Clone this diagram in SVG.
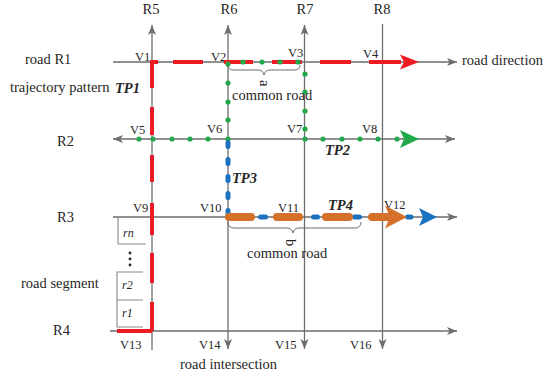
<svg xmlns="http://www.w3.org/2000/svg" width="544" height="377" viewBox="0 0 544 377" font-family="'Liberation Serif', 'Times New Roman', serif">
  <style>
    .road { fill: none; stroke: #6d6d6d; stroke-width: 1.3; }
    .box { fill: none; stroke: #8a8a8a; stroke-width: 1.1; }
    .brace { fill: none; stroke: #6d6d6d; stroke-width: 1; }
    text { font-family: 'Liberation Serif', 'Times New Roman', serif; fill: #262626; }
    .lbl { font-size: 14.5px; }
    .v { font-size: 12.5px; }
    .tp { font-size: 14.5px; font-weight: bold; font-style: italic; }
    .seg { font-size: 12px; font-style: italic; }
    .tp1 { fill: none; stroke: #ed1c24; stroke-width: 4; }
    .tp2 { fill: #22a84a; }
    .tp3 { fill: none; stroke: #1b72c0; stroke-width: 5; stroke-linecap: round; }
    .tp4 { fill: none; stroke: #d5702b; stroke-width: 8; stroke-linecap: round; }
  </style>
  <defs>
    <marker id="arr" markerUnits="userSpaceOnUse" markerWidth="11" markerHeight="9" refX="10" refY="4" orient="auto-start-reverse">
      <path d="M0,0 L10,4 L0,8 L2.5,4 z" fill="#6d6d6d"/>
    </marker>
  </defs>

  <!-- road network -->
  <g id="roads">
    <path class="road" d="M113,62 H457" marker-end="url(#arr)"/>
    <path class="road" d="M113,139 H455" marker-start="url(#arr)" marker-end="url(#arr)"/>
    <path class="road" d="M113,217 H457" marker-end="url(#arr)"/>
    <path class="road" d="M110,331 H457" marker-end="url(#arr)"/>
    <path class="road" d="M152,350 V25" marker-end="url(#arr)"/>
    <path class="road" d="M228,25 V349" marker-start="url(#arr)" marker-end="url(#arr)"/>
    <path class="road" d="M304.5,25 V349" marker-start="url(#arr)" marker-end="url(#arr)"/>
    <path class="road" d="M382.5,24 V349" marker-end="url(#arr)"/>
  </g>

  <!-- road labels -->
  <g id="road-labels" class="lbl">
    <text x="151" y="13.5" text-anchor="middle">R5</text>
    <text x="229" y="13.5" text-anchor="middle">R6</text>
    <text x="305" y="13.5" text-anchor="middle">R7</text>
    <text x="382" y="13.5" text-anchor="middle">R8</text>
    <text x="25" y="64">road R1</text>
    <text x="57" y="146">R2</text>
    <text x="57" y="222">R3</text>
    <text x="53" y="335">R4</text>
    <text x="462" y="65">road direction</text>
    <text x="10" y="92">trajectory pattern</text>
    <text x="21" y="288">road segment</text>
    <text x="180" y="369">road intersection</text>
  </g>

  <!-- intersection labels -->
  <g id="intersections" class="v">
    <text x="135" y="61">V1</text>
    <text x="211" y="61">V2</text>
    <text x="288" y="57">V3</text>
    <text x="363" y="58">V4</text>
    <text x="130" y="134">V5</text>
    <text x="207" y="133">V6</text>
    <text x="287" y="133">V7</text>
    <text x="362" y="133">V8</text>
    <text x="133" y="212">V9</text>
    <text x="200" y="212">V10</text>
    <text x="278" y="212">V11</text>
    <text x="384" y="209">V12</text>
    <text x="120" y="349">V13</text>
    <text x="199" y="349">V14</text>
    <text x="275" y="349">V15</text>
    <text x="350" y="349">V16</text>
  </g>

  <!-- road segments r1..rn -->
  <g id="segments">
    <path class="box" d="M118,217 V244 H146"/>
    <path class="box" d="M143,272 H117 V327 H143 M117,300 H143"/>
    <circle cx="130" cy="253" r="1.4" fill="#262626"/>
    <circle cx="130" cy="259" r="1.4" fill="#262626"/>
    <circle cx="130" cy="265" r="1.4" fill="#262626"/>
    <text class="seg" x="123" y="237">rn</text>
    <text class="seg" x="122" y="289">r2</text>
    <text class="seg" x="122" y="317">r1</text>
  </g>

  <!-- trajectory TP1 (red) -->
  <g id="TP1">
    <path class="tp1" d="M117,331 H152 M152,331 V302 M152,283 V253 M152,235 V203 M152,182 V155 M152,135 V107 M152,88 V62 H158 M173,62 H203 M224,62 H253 M272,62 H302 M320,62 H351 M369,62 H401"/>
    <path d="M400,54.5 L419,62 L400,69.5 L404,62 z" fill="#ed1c24"/>
    <text class="tp" x="115" y="93">TP1</text>
  </g>

  <!-- trajectory TP2 (green dots) -->
  <g id="TP2" class="tp2">
    <circle cx="139" cy="139" r="2.6"/>
    <circle cx="153" cy="139" r="2.6"/>
    <circle cx="172" cy="139" r="2.6"/>
    <circle cx="190" cy="139" r="2.6"/>
    <circle cx="208" cy="139" r="2.6"/>
    <circle cx="228" cy="139" r="2.6"/>
    <circle cx="228" cy="120" r="2.6"/>
    <circle cx="228" cy="102" r="2.6"/>
    <circle cx="228" cy="83" r="2.6"/>
    <circle cx="228" cy="64" r="2.6"/>
    <circle cx="243" cy="62" r="2.6"/>
    <circle cx="262" cy="62" r="2.6"/>
    <circle cx="280" cy="62" r="2.6"/>
    <circle cx="298" cy="62" r="2.6"/>
    <circle cx="305" cy="74" r="2.6"/>
    <circle cx="305" cy="92" r="2.6"/>
    <circle cx="305" cy="111" r="2.6"/>
    <circle cx="305" cy="129" r="2.6"/>
    <circle cx="305" cy="139" r="2.6"/>
    <circle cx="323" cy="139" r="2.6"/>
    <circle cx="342" cy="139" r="2.6"/>
    <circle cx="360" cy="139" r="2.6"/>
    <circle cx="378" cy="139" r="2.6"/>
    <circle cx="397" cy="139" r="2.6"/>
    <path d="M400,130 L419,139 L400,148 L404,139 z"/>
    <text class="tp" x="325" y="155">TP2</text>
  </g>

  <!-- trajectory TP3 (blue) -->
  <g id="TP3">
    <path class="tp3" d="M228,142.5 V217" stroke-dasharray="4 13"/>
    <path class="tp3" d="M260.5,217 H265.5 M313.5,217 H317.5 M354.5,217 H359.5 M407.5,217 H411"/>
    <path d="M419,208 L437,217 L419,226 L423,217 z" fill="#1b72c0"/>
    <text class="tp" x="232" y="183">TP3</text>
  </g>

  <!-- trajectory TP4 (orange) -->
  <g id="TP4">
    <path class="tp4" d="M229,217 H251 M277,217 H299 M326,217 H349 M372,217 H390"/>
    <path d="M385,205.5 L407,217 L385,228.5 L390,217 z" fill="#d5702b"/>
    <text class="tp" x="328" y="210">TP4</text>
  </g>

  <!-- common road a -->
  <g id="common-a">
    <path class="brace" d="M228,65 Q228,70 234,70 H258 Q263,70 264,75 Q265,70 270,70 H294 Q300,70 300,65"/>
    <text class="lbl" transform="translate(260,80) rotate(90)">a</text>
    <text class="lbl" x="232" y="100">common road</text>
  </g>

  <!-- common road b -->
  <g id="common-b">
    <path class="brace" d="M228,222 Q228,228 234,228 H287 Q292,228 293,233 Q294,228 299,228 H355 Q361,228 361,222"/>
    <text class="lbl" transform="translate(286,239) rotate(90)">b</text>
    <text class="lbl" x="247" y="258">common road</text>
  </g>
</svg>
